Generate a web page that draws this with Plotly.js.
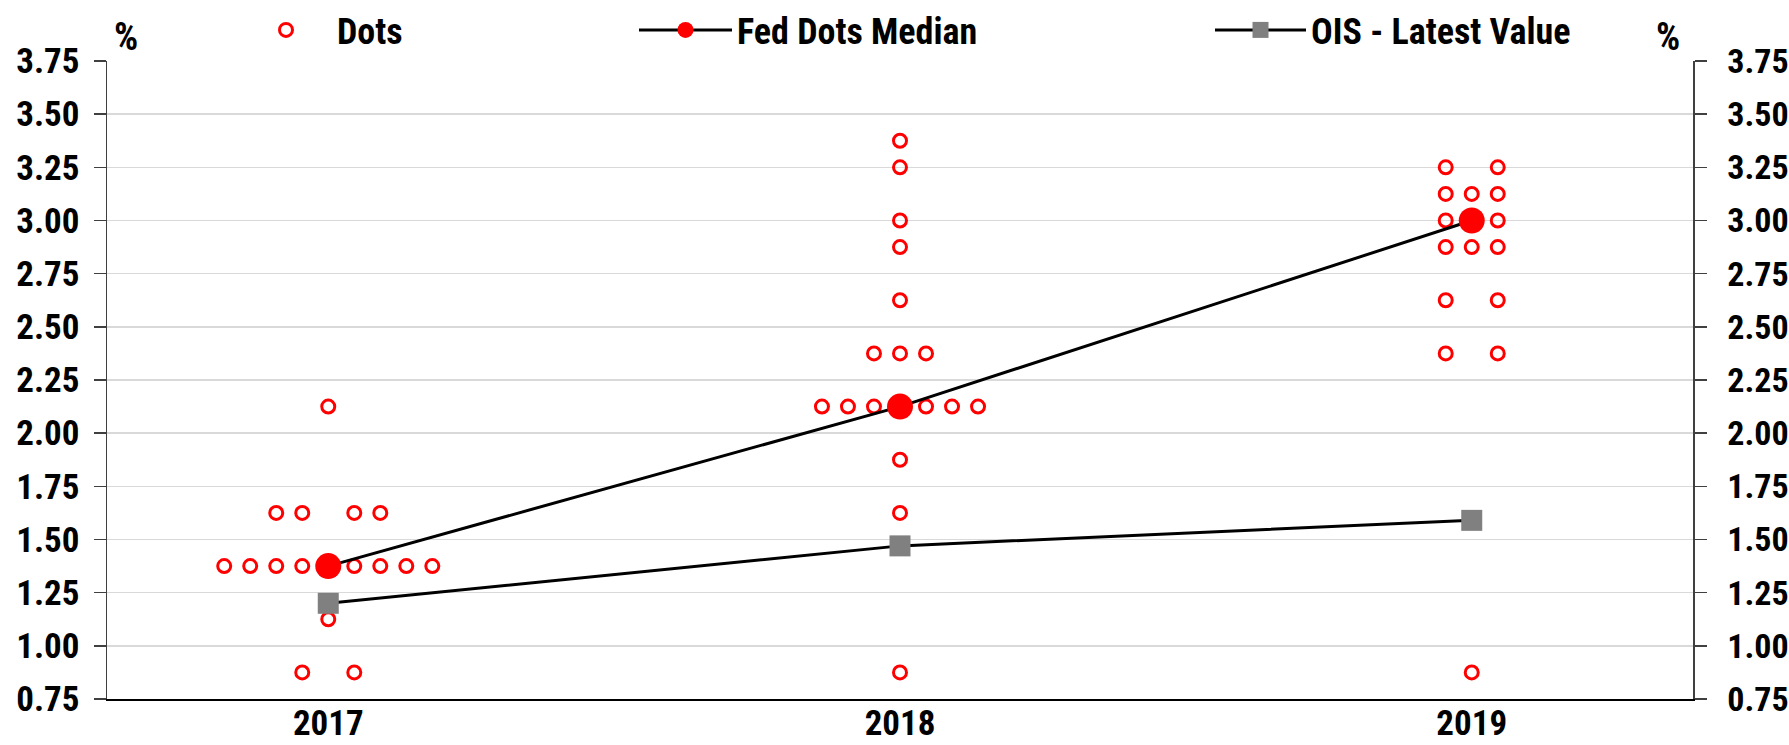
<!DOCTYPE html>
<html>
<head>
<meta charset="utf-8">
<script src="https://cdn.plot.ly/plotly-3.0.1.min.js"></script>
<style>
  html, body { margin: 0; padding: 0; background: #ffffff; }
  #chart { width: 1789px; height: 745px; }
</style>
</head>
<body>
<div id="chart"></div>
<script>
// ---- Data ----
const years = ['2017', '2018', '2019'];

// Fed dot plot: rate levels and number of participants at each level
const dotRates2017 = [2.125, 1.625, 1.375, 1.125, 0.875];
const dotCounts2017 = [1, 4, 8, 1, 2];

const dotRates2018 = [3.375, 3.25, 3.0, 2.875, 2.625, 2.375, 2.125, 1.875, 1.625, 0.875];
const dotCounts2018 = [1, 1, 1, 1, 1, 3, 6, 1, 1, 1];

const dotRates2019 = [3.25, 3.125, 3.0, 2.875, 2.625, 2.375, 0.875];
const dotCounts2019 = [2, 3, 2, 3, 2, 2, 1];

const fedMedian = [1.375, 2.125, 3.0];
const oisLatest = [1.20, 1.47, 1.59];

const yTickVals = [0.75, 1.00, 1.25, 1.50, 1.75, 2.00, 2.25, 2.50, 2.75, 3.00, 3.25, 3.50, 3.75];

// ---- Build dot positions (side-by-side within each rate level) ----
const DOT_STEP = 0.0455; // horizontal spacing of dots, in category units
const dotSets = [
  [dotRates2017, dotCounts2017],
  [dotRates2018, dotCounts2018],
  [dotRates2019, dotCounts2019]
];
const dotX = [], dotY = [];
dotSets.forEach(function (set, yi) {
  const rates = set[0], counts = set[1];
  rates.forEach(function (r, k) {
    const n = counts[k];
    const slots = [];
    if (n % 2 === 1) {
      slots.push(0);
      for (let s = 1; s <= (n - 1) / 2; s++) { slots.push(-s, s); }
    } else {
      for (let s = 1; s <= n / 2; s++) { slots.push(-s, s); }
    }
    slots.forEach(function (s) {
      dotX.push(yi + s * DOT_STEP);
      dotY.push(r);
    });
  });
});
const yearIdx = years.map(function (_, i) { return i; });

const FONT = '"Roboto Condensed", "Liberation Sans Narrow", "Arial Narrow", sans-serif';
const W = 1789, H = 745;

const traces = [
  {
    name: 'Dots',
    x: dotX, y: dotY,
    type: 'scatter', mode: 'markers',
    marker: { symbol: 'circle-open', size: 13, color: '#ff0000', line: { width: 3, color: '#ff0000' } },
    legend: 'legend',
    hoverinfo: 'y'
  },
  {
    name: 'Fed Dots Median',
    x: yearIdx, y: fedMedian,
    type: 'scatter', mode: 'lines+markers',
    line: { color: '#000000', width: 3 },
    marker: { symbol: 'circle', size: 26, color: '#ff0000' },
    legend: 'legend2'
  },
  {
    name: 'OIS - Latest Value',
    x: yearIdx, y: oisLatest,
    type: 'scatter', mode: 'lines+markers',
    line: { color: '#000000', width: 3 },
    marker: { symbol: 'square', size: 21, color: '#808080' },
    legend: 'legend3'
  },
  {
    // carries the right-hand axis
    x: yearIdx, y: fedMedian, yaxis: 'y2',
    type: 'scatter', mode: 'markers',
    marker: { opacity: 0 }, showlegend: false, hoverinfo: 'skip'
  }
];

const legendBase = {
  orientation: 'h',
  xref: 'container', yref: 'container',
  xanchor: 'left', yanchor: 'middle',
  bgcolor: 'rgba(0,0,0,0)', borderwidth: 0,
  font: { family: FONT, size: 36, color: '#000000', weight: 'bold' },
  itemsizing: 'trace'
};

const layout = {
  width: W, height: H,
  paper_bgcolor: '#ffffff', plot_bgcolor: '#ffffff',
  margin: { l: 107, r: 96, t: 61, b: 46, pad: 0 },
  font: { family: FONT, size: 36, color: '#000000', weight: 'bold' },
  showlegend: true,
  legend: Object.assign({}, legendBase, { x: 235 / W, y: 1 - 30 / H, itemwidth: 92 }),
  legend2: Object.assign({}, legendBase, { x: 634 / W, y: 1 - 30 / H, itemwidth: 93 }),
  legend3: Object.assign({}, legendBase, { x: 1210 / W, y: 1 - 30 / H, itemwidth: 91 }),
  xaxis: {
    type: 'linear',
    range: [-0.387, 2.387],
    tickvals: yearIdx, ticktext: years,
    showgrid: false, zeroline: false,
    showline: true, linecolor: '#000000', linewidth: 2,
    ticks: '', ticklabelstandoff: -8,
    tickfont: { family: FONT, size: 35, color: '#000000', weight: 'bold' },
    fixedrange: true
  },
  yaxis: {
    range: [0.75, 3.75],
    tickvals: yTickVals, tickformat: '.2f',
    showgrid: true, gridcolor: '#d9d9d9', gridwidth: 1.5,
    zeroline: false,
    showline: true, linecolor: '#404040', linewidth: 1.5,
    ticks: 'outside', ticklen: 12, tickwidth: 1.5, tickcolor: '#404040',
    ticklabelstandoff: 7,
    tickfont: { family: FONT, size: 35, color: '#000000', weight: 'bold' },
    fixedrange: true
  },
  yaxis2: {
    overlaying: 'y', side: 'right', anchor: 'x',
    range: [0.75, 3.75],
    tickvals: yTickVals, tickformat: '.2f',
    showgrid: false, zeroline: false,
    showline: true, linecolor: '#404040', linewidth: 1.5,
    ticks: 'outside', ticklen: 12, tickwidth: 1.5, tickcolor: '#404040',
    ticklabelstandoff: 14,
    tickfont: { family: FONT, size: 34, color: '#000000', weight: 'bold' },
    fixedrange: true
  },
  annotations: [
    { text: '%', xref: 'paper', yref: 'paper', x: (126 - 107) / 1586, y: 1 + (61 - 37) / 638,
      xanchor: 'center', yanchor: 'middle', showarrow: false,
      font: { family: FONT, size: 38, color: '#000000', weight: 'bold' } },
    { text: '%', xref: 'paper', yref: 'paper', x: (1668 - 107) / 1586, y: 1 + (61 - 37) / 638,
      xanchor: 'center', yanchor: 'middle', showarrow: false,
      font: { family: FONT, size: 38, color: '#000000', weight: 'bold' } }
  ]
};

Plotly.newPlot('chart', traces, layout, { displayModeBar: false, staticPlot: true });
</script>
</body>
</html>
